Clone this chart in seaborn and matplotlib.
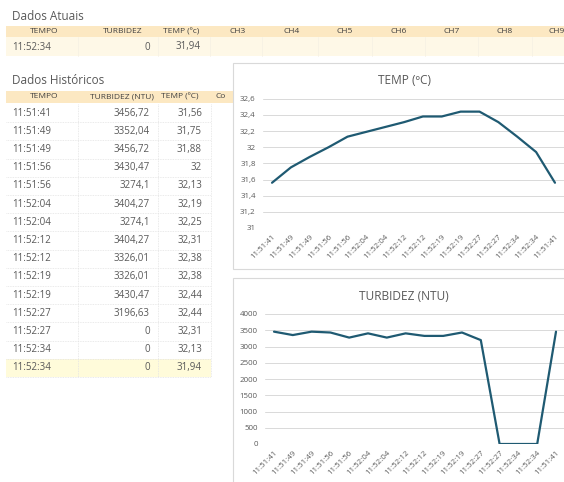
import matplotlib
matplotlib.use("Agg")
import matplotlib.pyplot as plt
import matplotlib.patches as mpatches
import numpy as np
import pandas as pd
import seaborn as sns

# ------------------------------------------------
# Data
# ------------------------------------------------

atual_tempo = "11:52:34"
atual_turbidez = 0
atual_temp = 31.94
atual_headers = ["TEMPO", "TURBIDEZ", "TEMP (ºc)", "CH3", "CH4", "CH5", "CH6", "CH7", "CH8", "CH9"]

hist_headers = ["TEMPO", "TURBIDEZ (NTU)", "TEMP (ºC)", "Co"]
hist_tempo = ["11:51:41", "11:51:49", "11:51:49", "11:51:56", "11:51:56", "11:52:04", "11:52:04",
              "11:52:12", "11:52:12", "11:52:19", "11:52:19", "11:52:27", "11:52:27", "11:52:34",
              "11:52:34"]
hist_turbidez = [3456.72, 3352.04, 3456.72, 3430.47, 3274.1, 3404.27, 3274.1, 3404.27, 3326.01,
                 3326.01, 3430.47, 3196.63, 0, 0, 0]
hist_temp = [31.56, 31.75, 31.88, 32, 32.13, 32.19, 32.25, 32.31, 32.38, 32.38, 32.44, 32.44,
             32.31, 32.13, 31.94]

chart_tempo = ["11:51:41", "11:51:49", "11:51:49", "11:51:56", "11:51:56", "11:52:04", "11:52:04",
               "11:52:12", "11:52:12", "11:52:19", "11:52:19", "11:52:27", "11:52:27", "11:52:34",
               "11:52:34", "11:51:41"]
chart_temp = [31.56, 31.75, 31.88, 32, 32.13, 32.19, 32.25, 32.31, 32.38, 32.38, 32.44, 32.44,
              32.31, 32.13, 31.94, 31.56]
chart_turbidez = [3456.72, 3352.04, 3456.72, 3430.47, 3274.1, 3404.27, 3274.1, 3404.27, 3326.01,
                  3326.01, 3430.47, 3196.63, 0, 0, 0, 3456.72]

temp_ticks = [31, 31.2, 31.4, 31.6, 31.8, 32, 32.2, 32.4, 32.6]
turb_ticks = [0, 500, 1000, 1500, 2000, 2500, 3000, 3500, 4000]

# ------------------------------------------------
# Style
# ------------------------------------------------

sns.set_style("white")
plt.rcParams["font.family"] = ["Open Sans", "DejaVu Sans"]

W, H = 564, 482
TXT = "#404040"
GREY = "#595959"
HEAD_BG = "#FCE8C2"
ROW_BG = "#FEF8E7"
SEL_BG = "#FFFBDA"
LINE = "#1F5A72"
GRID = "#D9D9D9"


def fmt(v):
    return f"{v:g}".replace(".", ",")


fig = plt.figure(figsize=(W / 100, H / 100), dpi=100)

# background "sheet" in pixel coordinates
bg = fig.add_axes([0, 0, 1, 1])
bg.set_xlim(0, W)
bg.set_ylim(H, 0)
bg.axis("off")

# ------------------------------------------------
# Dados Atuais
# ------------------------------------------------

bg.text(12, 17, "Dados Atuais", fontsize=8.5, color=GREY, va="center", ha="left")
bg.add_patch(mpatches.Rectangle((6, 26), W, 11, color=HEAD_BG, lw=0))
bg.add_patch(mpatches.Rectangle((6, 37), W, 19, color=ROW_BG, lw=0))
head_x = [44, 123, 181, 238, 292, 345, 399, 452, 505, 557]
for x, lab in zip(head_x, atual_headers):
    bg.text(x, 31.5, lab, fontsize=6.0, color=TXT, ha="center", va="center")
for x in [78, 158, 210, 262, 318, 372, 425, 478, 532]:
    bg.plot([x, x], [37, 56], color="#F6F1E4", lw=0.6)
bg.text(12, 47, atual_tempo, fontsize=7, color=GREY, ha="left", va="center")
bg.text(150, 47, fmt(atual_turbidez), fontsize=7, color=GREY, ha="right", va="center")
bg.text(201, 47, fmt(atual_temp), fontsize=7, color=GREY, ha="right", va="center")

# ------------------------------------------------
# Dados Historicos
# ------------------------------------------------

bg.text(12, 80, "Dados Históricos", fontsize=8.5, color=GREY, va="center", ha="left")
bg.add_patch(mpatches.Rectangle((6, 91), 228, 12, color=HEAD_BG, lw=0))
for x, lab in zip([44, 122, 180, 216], hist_headers):
    bg.text(x, 97, lab, fontsize=6.0, color=TXT, ha="center" if lab != "Co" else "left",
            va="center")

row_h = 18.2
top = 104
n = len(hist_tempo)
bg.add_patch(mpatches.Rectangle((6, top + (n - 1) * row_h), 205, row_h, color=SEL_BG, lw=0))
for i in range(n):
    yc = top + (i + 0.5) * row_h
    bg.text(12, yc, hist_tempo[i], fontsize=7, color=GREY, ha="left", va="center")
    bg.text(150, yc, fmt(hist_turbidez[i]), fontsize=7, color=GREY, ha="right", va="center")
    bg.text(202, yc, fmt(hist_temp[i]), fontsize=7, color=GREY, ha="right", va="center")
    bg.plot([6, 211], [top + (i + 1) * row_h] * 2, color="#E3E3E3", lw=0.6, ls=(0, (1, 1)))
for x in [78, 158, 211]:
    bg.plot([x, x], [top, top + n * row_h], color="#E3E3E3", lw=0.6, ls=(0, (1, 1)))

# chart frames
bg.add_patch(mpatches.Rectangle((233, 63), 340, 206, facecolor="white", edgecolor=GRID, lw=0.8))
bg.add_patch(mpatches.Rectangle((233, 278), 340, 220, facecolor="white", edgecolor=GRID, lw=0.8))
bg.text(404, 80, "TEMP (ºC)", fontsize=8.6, color=GREY, ha="center", va="center")
bg.text(404, 296, "TURBIDEZ (NTU)", fontsize=8.6, color=GREY, ha="center", va="center")

# ------------------------------------------------
# Line charts
# ------------------------------------------------


def line_chart(rect, values, ticks):
    x0, y0, x1, y1 = rect
    ax = fig.add_axes([x0 / W, 1 - y1 / H, (x1 - x0) / W, (y1 - y0) / H])
    ax.set_facecolor("none")
    df = pd.DataFrame({"pos": np.arange(len(values)), "val": values})
    sns.lineplot(data=df, x="pos", y="val", ax=ax, color=LINE, linewidth=1.6, estimator=None)
    ax.set_xlim(-0.5, len(values) - 0.5)
    ax.set_ylim(ticks[0], ticks[-1])
    ax.set_yticks(ticks)
    ax.set_yticklabels([fmt(t) for t in ticks])
    ax.set_xticks(df["pos"])
    ax.set_xticklabels(chart_tempo, rotation=45, ha="right", rotation_mode="anchor")
    ax.grid(axis="y", color=GRID, lw=0.7)
    ax.set_axisbelow(True)
    for s in ax.spines.values():
        s.set_visible(False)
    ax.tick_params(axis="both", length=0, labelsize=5.7, colors=GREY)
    ax.tick_params(axis="y", pad=5)
    ax.tick_params(axis="x", pad=4)
    ax.set_xlabel("")
    ax.set_ylabel("")
    return ax


line_chart((262.6, 98.7, 564.4, 228), chart_temp, temp_ticks)
line_chart((264.6, 314, 565.4, 444), chart_turbidez, turb_ticks)

fig.savefig("out.png", dpi=100)
